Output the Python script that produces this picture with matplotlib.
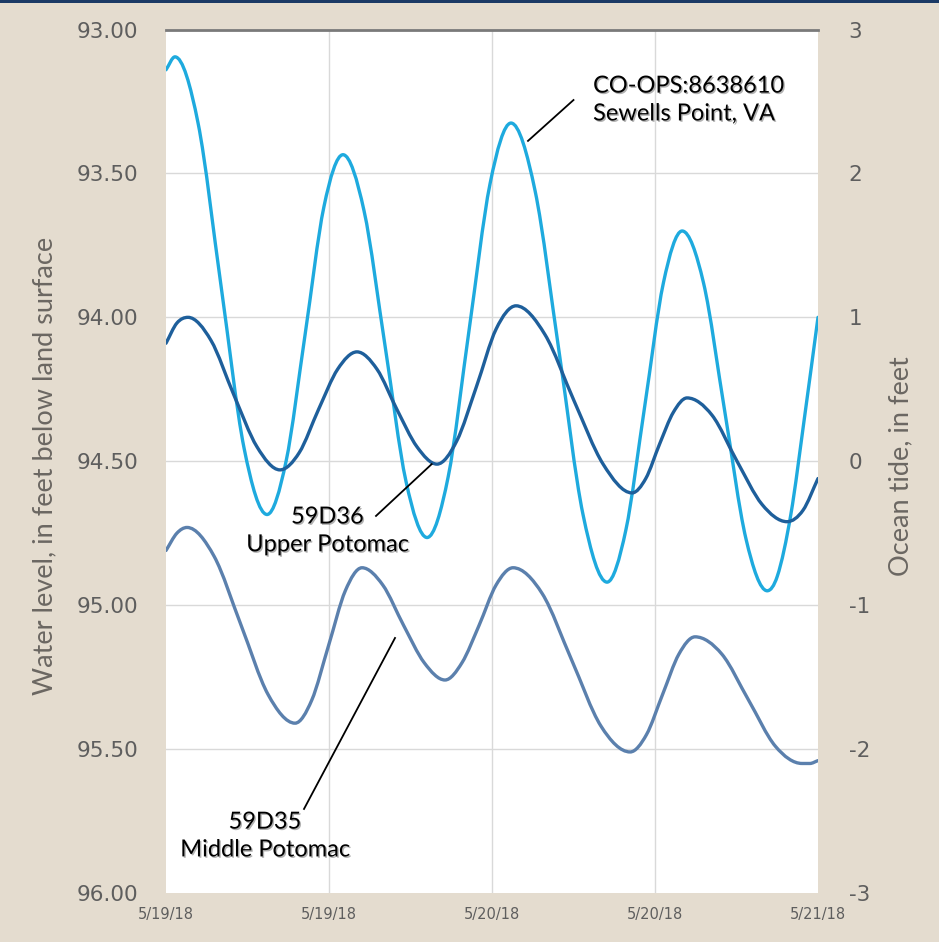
import numpy as np
import matplotlib
matplotlib.use('Agg')
import matplotlib.pyplot as plt
import matplotlib.dates as mdates
import matplotlib.patheffects as pe
from matplotlib.path import Path
from matplotlib.patches import PathPatch, Rectangle
from matplotlib.ticker import FixedLocator, FuncFormatter
from datetime import datetime

start = datetime(2018, 5, 19)

# Ocean tide at Sewells Point (ft), hours after 5/19/18 00:00
tide_hours = [0, 0.66, 2.36, 4.05, 5.75, 7.44, 8.84, 10.24, 11.63, 13.03,
              14.58, 16.13, 17.67, 19.22, 20.77, 22.31, 23.86, 25.4, 27.17,
              28.94, 30.70, 32.47, 33.85, 35.24, 36.62, 38.0, 39.57, 41.13,
              42.70, 44.26, 45.0, 46.0, 47.0, 48.0]
tide_ft = [2.72, 2.81, 2.35, 1.22, 0.09, -0.37, 0.0, 0.88, 1.77, 2.13,
           1.74, 0.80, -0.14, -0.53, -0.11, 0.91, 1.93, 2.35, 1.88,
           0.76, -0.37, -0.84, -0.48, 0.38, 1.24, 1.60, 1.24, 0.35,
           -0.54, -0.90, -0.80, -0.37, 0.30, 1.00]

# 59D36 Upper Potomac, ft below land surface
up_hours = [0, 0.8, 1.62, 3.31, 5.0, 6.70, 8.39, 9.81, 11.23, 12.64, 14.06,
            15.53, 17.0, 18.48, 19.95, 21.4, 22.86, 24.31, 25.77, 27.9,
            30.04, 32.18, 34.31, 35.32, 36.34, 37.35, 38.36, 40.2, 42.04,
            43.88, 45.72, 46.9, 48.0]
up_level = [94.09, 94.02, 94.00, 94.08, 94.27, 94.45, 94.53, 94.47, 94.32,
            94.18, 94.12, 94.18, 94.32, 94.45, 94.51, 94.43, 94.24, 94.04,
            93.96, 94.06, 94.29, 94.51, 94.61, 94.56, 94.44, 94.33, 94.28,
            94.34, 94.50, 94.65, 94.71, 94.67, 94.56]

# 59D35 Middle Potomac, ft below land surface
mp_hours = [0, 0.8, 1.55, 3.54, 5.53, 7.51, 9.5, 10.73, 11.97, 13.2, 14.43,
            15.96, 17.49, 19.01, 20.54, 21.79, 23.05, 24.3, 25.55, 27.7,
            29.86, 32.02, 34.17, 35.37, 36.56, 37.76, 38.95, 40.92, 42.89,
            44.86, 46.83, 47.4, 48.0]
mp_level = [94.81, 94.75, 94.73, 94.83, 95.07, 95.31, 95.41, 95.33, 95.14,
            94.95, 94.87, 94.93, 95.07, 95.20, 95.26, 95.20, 95.07, 94.93,
            94.87, 94.96, 95.19, 95.42, 95.51, 95.45, 95.31, 95.17, 95.11,
            95.17, 95.33, 95.49, 95.55, 95.55, 95.54]

x_tick_hours = [0, 12, 24, 36, 48]
left_ticks = [93.0, 93.5, 94.0, 94.5, 95.0, 95.5, 96.0]
right_ticks = [-3, -2, -1, 0, 1, 2, 3]

x0 = mdates.date2num(start)


def to_x(hours):
    return x0 + np.asarray(hours, dtype=float) / 24.0


def smooth_path(x, y):
    # cubic hermite bezier through the points, flat at turning points
    x = np.asarray(x, dtype=float)
    y = np.asarray(y, dtype=float)
    d = np.diff(y) / np.diff(x)
    m = np.empty_like(y)
    m[0], m[-1] = d[0], d[-1]
    for i in range(1, len(y) - 1):
        if d[i - 1] * d[i] <= 0:
            m[i] = 0.0
        else:
            m[i] = (d[i - 1] + d[i]) / 2.0
    verts = [(x[0], y[0])]
    codes = [Path.MOVETO]
    for i in range(len(x) - 1):
        h = (x[i + 1] - x[i]) / 3.0
        verts += [(x[i] + h, y[i] + m[i] * h),
                  (x[i + 1] - h, y[i + 1] - m[i + 1] * h),
                  (x[i + 1], y[i + 1])]
        codes += [Path.CURVE4] * 3
    return Path(verts, codes)


def add_curve(ax, hours, vals, color):
    patch = PathPatch(smooth_path(to_x(hours), vals), facecolor='none',
                      edgecolor=color, lw=2.4, capstyle='round',
                      joinstyle='round', zorder=3)
    ax.add_patch(patch)


fig = plt.figure(figsize=(9.39, 9.42), dpi=100, facecolor='#e4dccf')
fig.add_artist(Rectangle((0, 1 - 3 / 942), 1, 3 / 942, transform=fig.transFigure,
                         facecolor='#1b3a66', edgecolor='none'))

ax2 = fig.add_axes([166 / 939, 1 - 893 / 942, 652 / 939, 863.5 / 942])
ax = ax2.twinx()
ax.yaxis.tick_left()
ax.yaxis.set_label_position('left')
ax2.yaxis.tick_right()
ax2.yaxis.set_label_position('right')
ax.set_zorder(ax2.get_zorder() + 1)
ax.patch.set_visible(False)
ax2.set_facecolor('white')

# light grid underneath everything
for v in right_ticks[1:-1]:
    ax2.axhline(v, color='#d9d9d9', lw=1, zorder=1)
for h in x_tick_hours[1:-1]:
    ax2.axvline(to_x(h), color='#d9d9d9', lw=1, zorder=1)

add_curve(ax2, tide_hours, tide_ft, '#1eaade')
add_curve(ax, up_hours, up_level, '#1e5f9b')
add_curve(ax, mp_hours, mp_level, '#5b80ad')

for a in (ax, ax2):
    for s in a.spines.values():
        s.set_visible(False)
ax.spines['top'].set_visible(True)
ax.spines['top'].set_color('#7a7a7a')
ax.spines['top'].set_linewidth(2)

tick_col = '#5e5e5e'
ax.yaxis.set_major_locator(FixedLocator(left_ticks))
ax.yaxis.set_major_formatter(FuncFormatter(lambda v, pos: f'{v:.2f}'))
ax2.yaxis.set_major_locator(FixedLocator(right_ticks))
ax2.yaxis.set_major_formatter(FuncFormatter(lambda v, pos: f'{v:.0f}'))
ax2.xaxis.set_major_locator(FixedLocator(to_x(x_tick_hours)))


def date_label(v, pos):
    d = mdates.num2date(v)
    return f'{d.month}/{d.day}/{d:%y}'


ax2.xaxis.set_major_formatter(FuncFormatter(date_label))
ax.tick_params(axis='y', length=0, pad=20, labelsize=15.5, labelcolor=tick_col)
ax2.tick_params(axis='y', length=0, pad=22, labelsize=15.5, labelcolor=tick_col)
ax2.tick_params(axis='x', length=0, pad=10, labelsize=10.5, labelcolor=tick_col)
ax.tick_params(axis='x', length=0, labelbottom=False)

lab_col = '#6b6762'
ax.set_ylabel('Water level, in feet below land surface', fontsize=19.5,
              family='Lato', color=lab_col)
ax.yaxis.set_label_coords(-0.166, 0.4945)
ax2.set_ylabel('Ocean tide, in feet', fontsize=19.5, family='Lato', color=lab_col,
               rotation=90)
ax2.yaxis.set_label_coords(1.108, 0.4945)

shadow = [pe.SimplePatchShadow(offset=(1, -1), alpha=0.3), pe.Normal()]
txt = dict(fontsize=17, family='Lato', color='black', linespacing=1.4,
           path_effects=shadow, zorder=5)

ax.plot(to_x([30.0, 26.65]), [93.245, 93.387], color='black', lw=1.3, zorder=5)
ax.text(to_x(31.44), 93.245, 'CO-OPS:8638610\nSewells Point, VA',
        ha='left', va='center', **txt)

ax.plot(to_x([15.46, 19.56]), [94.690, 94.510], color='black', lw=1.3, zorder=5)
ax.text(to_x(11.89), 94.742, '59D36\nUpper Potomac', ha='center', va='center',
        multialignment='center', **txt)

ax.plot(to_x([10.16, 16.86]), [95.708, 95.114], color='black', lw=1.3, zorder=5)
ax.text(to_x(7.29), 95.802, '59D35\nMiddle Potomac', ha='center', va='center',
        multialignment='center', **txt)

ax2.set_xlim(x0, x0 + 2)
ax.set_ylim(96, 93)
ax2.set_ylim(-3, 3)

fig.savefig('out.png', dpi=100, facecolor=fig.get_facecolor())
